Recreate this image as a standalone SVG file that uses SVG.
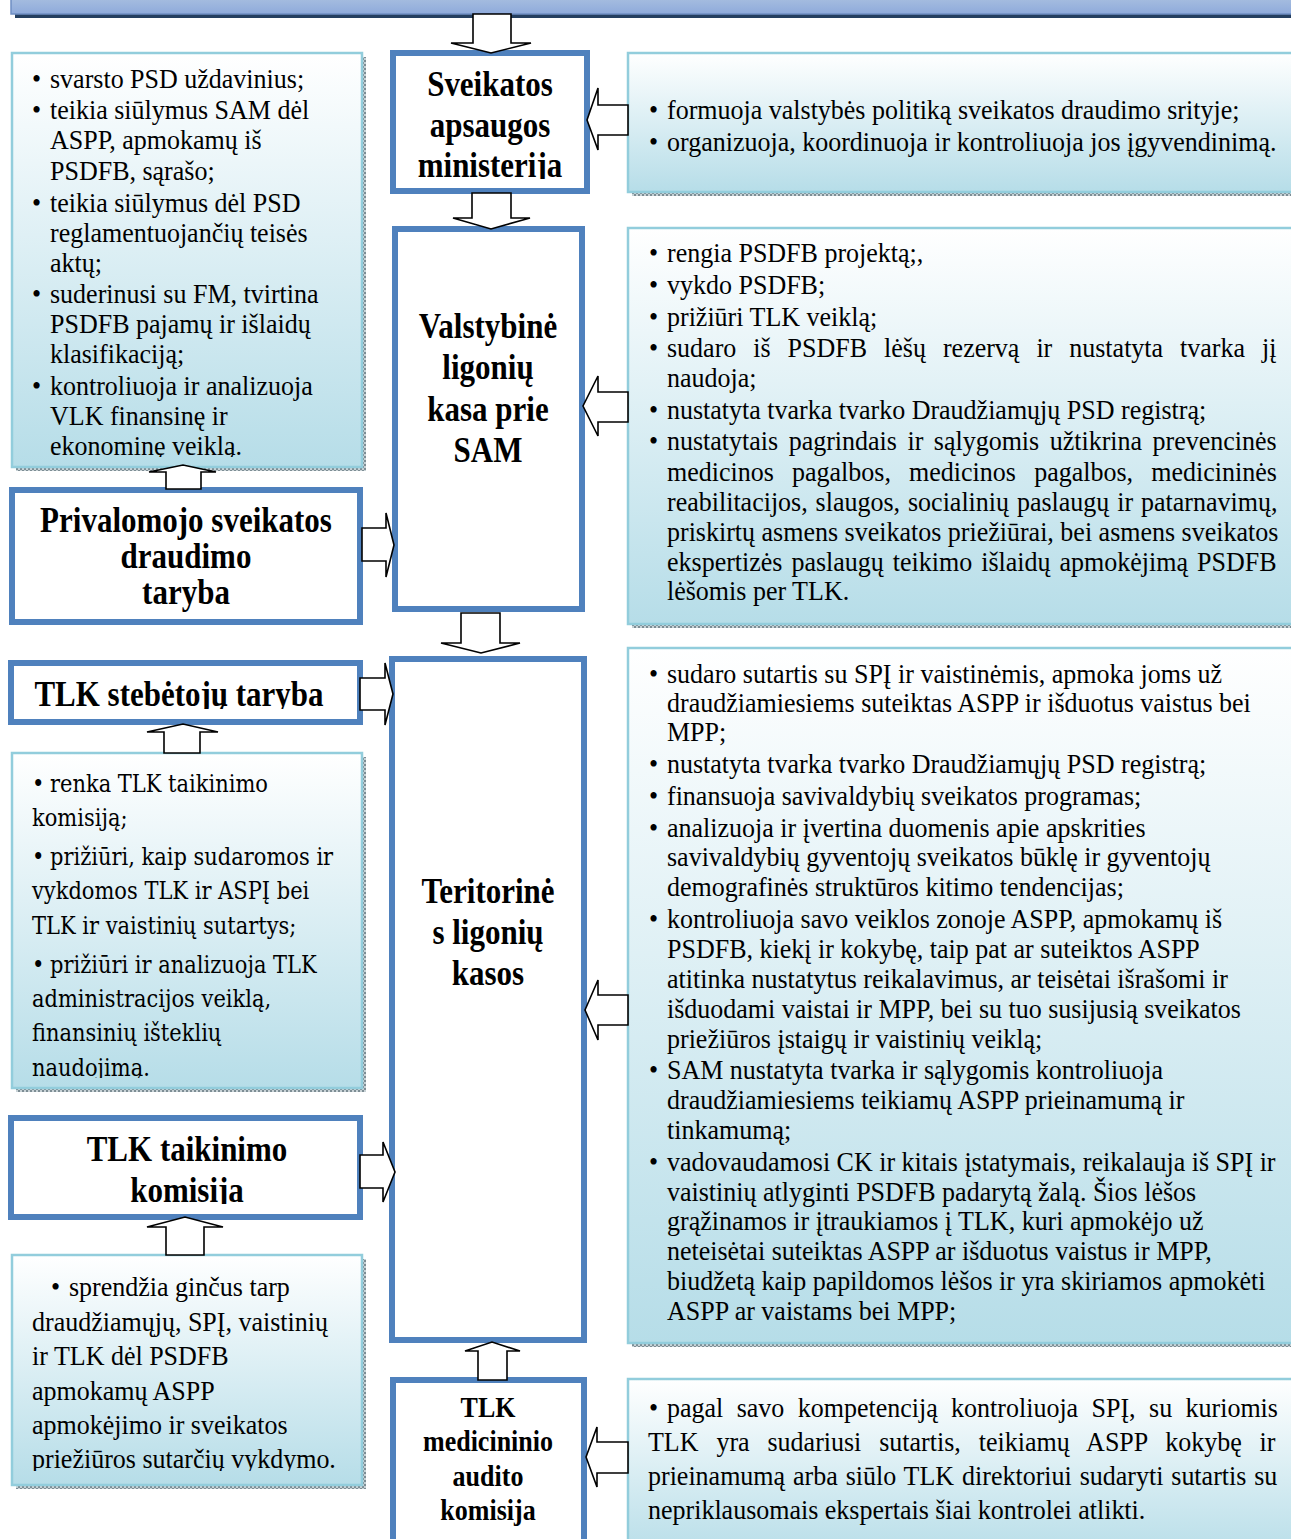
<svg xmlns="http://www.w3.org/2000/svg" width="1291" height="1539" viewBox="0 0 1291 1539">
<defs>
<linearGradient id="g" x1="0" y1="0" x2="0" y2="1">
<stop offset="0" stop-color="#ffffff"/>
<stop offset="1" stop-color="#b6dde8"/>
</linearGradient>
<linearGradient id="bar" x1="0" y1="0" x2="0" y2="1">
<stop offset="0" stop-color="#a9c0e0"/>
<stop offset="1" stop-color="#8eaadb"/>
</linearGradient>
<pattern id="sh" width="4" height="4" patternUnits="userSpaceOnUse">
<rect width="4" height="4" fill="#c8d2d6"/>
<rect width="2" height="2" fill="#7d8d94"/>
<rect x="2" y="2" width="2" height="2" fill="#7d8d94"/>
</pattern>
<clipPath id="cl1"><rect x="12" y="53" width="350" height="404"/></clipPath>
<clipPath id="cl2"><rect x="12" y="753" width="350" height="325"/></clipPath>
<clipPath id="cl3"><rect x="12" y="1255" width="350" height="216"/></clipPath>
<clipPath id="cSAM"><rect x="393" y="53" width="194" height="126"/></clipPath>
<clipPath id="cSteb"><rect x="11" y="663" width="349" height="46"/></clipPath>
<clipPath id="cTaik"><rect x="11" y="1118" width="349" height="86"/></clipPath>
</defs>
<style>
.info{fill:url(#g);stroke:#92cddc;stroke-width:2.5}
.sh{fill:url(#sh)}
.node{fill:#fff;stroke:#4f81bd;stroke-width:6}
.arrow{fill:#fff;stroke:#000;stroke-width:1.6;stroke-linejoin:miter}
text{transform-box:fill-box;transform-origin:0 80.5%;transform:scaleY(1.15)}
.b{font-family:"Liberation Serif","Times New Roman",serif;font-size:26px;fill:#000;transform:scaleY(1.06)}
.h{font-family:"Liberation Serif","Times New Roman",serif;font-weight:bold;font-size:31px;text-anchor:middle;fill:#000}
.h2{font-size:26px}
.c{font-family:"DejaVu Serif",serif;font-size:21px;fill:#000;transform-origin:0 79.7%}
</style>
<rect width="1291" height="1539" fill="#fff"/>

<g id="topbar">
<rect x="15" y="13" width="1290" height="5" fill="#243f60"/>
<rect x="11" y="-4" width="1290" height="18" fill="url(#bar)" stroke="#6f8fc4" stroke-width="1.5"/>
</g>

<g id="info-sam">
<rect class="sh" x="632" y="192" width="680" height="4"/>
<rect class="info" x="628" y="53" width="680" height="139"/>
<text class="b" x="649" y="119">•</text><text class="b" x="667" y="119">formuoja valstybės politiką sveikatos draudimo srityje;</text>
<text class="b" x="649" y="151">•</text><text class="b" x="667" y="151">organizuoja, koordinuoja ir kontroliuoja jos įgyvendinimą.</text>
</g>

<g id="info-left1">
<rect class="sh" x="362" y="57" width="4" height="414"/>
<rect class="sh" x="16" y="467" width="350" height="4"/>
<rect class="info" x="12" y="53" width="350" height="414"/>
<g clip-path="url(#cl1)">
<text class="b" x="32" y="88">•</text><text class="b" x="50" y="88">svarsto PSD uždavinius;</text>
<text class="b" x="32" y="119">•</text><text class="b" x="50" y="119">teikia siūlymus SAM dėl</text>
<text class="b" x="50" y="149">ASPP, apmokamų iš</text>
<text class="b" x="50" y="180">PSDFB, sąrašo;</text>
<text class="b" x="32" y="212">•</text><text class="b" x="50" y="212">teikia siūlymus dėl PSD</text>
<text class="b" x="50" y="242">reglamentuojančių teisės</text>
<text class="b" x="50" y="272">aktų;</text>
<text class="b" x="32" y="303">•</text><text class="b" x="50" y="303">suderinusi su FM, tvirtina</text>
<text class="b" x="50" y="333">PSDFB pajamų ir išlaidų</text>
<text class="b" x="50" y="363">klasifikaciją;</text>
<text class="b" x="32" y="395">•</text><text class="b" x="50" y="395">kontroliuoja ir analizuoja</text>
<text class="b" x="50" y="425">VLK finansinę ir</text>
<text class="b" x="50" y="455">ekonominę veiklą.</text>
</g>
</g>

<g id="sam">
<rect class="node" x="393" y="53" width="194" height="138"/>
<g clip-path="url(#cSAM)">
<text class="h" x="490" y="96">Sveikatos</text>
<text class="h" x="490" y="137">apsaugos</text>
<text class="h" x="490" y="177">ministerija</text>
</g>
</g>

<g id="vlk">
<rect class="node" x="395" y="229" width="187" height="380"/>
<text class="h" x="488" y="338">Valstybinė</text>
<text class="h" x="488" y="379">ligonių</text>
<text class="h" x="488" y="421">kasa prie</text>
<text class="h" x="488" y="462">SAM</text>
</g>

<g id="info-vlk">
<rect class="sh" x="632" y="624" width="680" height="4"/>
<rect class="info" x="628" y="228" width="680" height="396"/>
<text class="b" x="649" y="262">•</text><text class="b" x="667" y="262">rengia PSDFB projektą;,</text>
<text class="b" x="649" y="294">•</text><text class="b" x="667" y="294">vykdo PSDFB;</text>
<text class="b" x="649" y="326">•</text><text class="b" x="667" y="326">prižiūri TLK veiklą;</text>
<text class="b" x="649" y="357">•</text><text class="b" x="667" y="357" word-spacing="10.5">sudaro iš PSDFB lėšų rezervą ir nustatyta tvarka jį</text>
<text class="b" x="667" y="387">naudoja;</text>
<text class="b" x="649" y="419">•</text><text class="b" x="667" y="419">nustatyta tvarka tvarko Draudžiamųjų PSD registrą;</text>
<text class="b" x="649" y="450">•</text><text class="b" x="667" y="450" word-spacing="4">nustatytais pagrindais ir sąlygomis užtikrina prevencinės</text>
<text class="b" x="667" y="481" word-spacing="11.7">medicinos pagalbos, medicinos pagalbos, medicininės</text>
<text class="b" x="667" y="511" word-spacing="1.4">reabilitacijos, slaugos, socialinių paslaugų ir patarnavimų,</text>
<text class="b" x="667" y="541">priskirtų asmens sveikatos priežiūrai, bei asmens sveikatos</text>
<text class="b" x="667" y="571" word-spacing="2.5">ekspertizės paslaugų teikimo išlaidų apmokėjimą PSDFB</text>
<text class="b" x="667" y="600">lėšomis per TLK.</text>
</g>

<g id="psd-taryba">
<rect class="node" x="12" y="490" width="348" height="132"/>
<text class="h" x="186" y="532">Privalomojo sveikatos</text>
<text class="h" x="186" y="568">draudimo</text>
<text class="h" x="186" y="604">taryba</text>
</g>

<g id="tlk-steb">
<rect class="node" x="11" y="663" width="349" height="59"/>
<g clip-path="url(#cSteb)">
<text class="h" x="179" y="706">TLK stebėtojų taryba</text>
</g>
</g>

<g id="info-left2">
<rect class="sh" x="362" y="757" width="4" height="335"/>
<rect class="sh" x="16" y="1088" width="350" height="4"/>
<rect class="info" x="12" y="753" width="350" height="335"/>
<g clip-path="url(#cl2)">
<text class="c" x="32" y="792">•</text><text class="c" x="50" y="792">renka TLK taikinimo</text>
<text class="c" x="32" y="826">komisiją;</text>
<text class="c" x="32" y="865">•</text><text class="c" x="50" y="865">prižiūri, kaip sudaromos ir</text>
<text class="c" x="32" y="899">vykdomos TLK ir ASPĮ bei</text>
<text class="c" x="32" y="934">TLK ir vaistinių sutartys;</text>
<text class="c" x="32" y="973">•</text><text class="c" x="50" y="973">prižiūri ir analizuoja TLK</text>
<text class="c" x="32" y="1007">administracijos veiklą,</text>
<text class="c" x="32" y="1041">finansinių išteklių</text>
<text class="c" x="32" y="1076">naudojimą.</text>
</g>
</g>

<g id="tlk">
<rect class="node" x="392" y="659" width="192" height="681"/>
<text class="h" x="488" y="903">Teritorinė</text>
<text class="h" x="488" y="944">s ligonių</text>
<text class="h" x="488" y="985">kasos</text>
</g>

<g id="info-tlk">
<rect class="sh" x="632" y="1343" width="680" height="4"/>
<rect class="info" x="628" y="648" width="680" height="695"/>
<text class="b" x="649" y="683">•</text><text class="b" x="667" y="683">sudaro sutartis su SPĮ ir vaistinėmis, apmoka  joms už</text>
<text class="b" x="667" y="712">draudžiamiesiems suteiktas ASPP ir išduotus vaistus bei</text>
<text class="b" x="667" y="741">MPP;</text>
<text class="b" x="649" y="773">•</text><text class="b" x="667" y="773">nustatyta tvarka tvarko Draudžiamųjų PSD registrą;</text>
<text class="b" x="649" y="805">•</text><text class="b" x="667" y="805">finansuoja savivaldybių sveikatos programas;</text>
<text class="b" x="649" y="837">•</text><text class="b" x="667" y="837">analizuoja ir įvertina duomenis apie apskrities</text>
<text class="b" x="667" y="866">savivaldybių gyventojų sveikatos būklę ir gyventojų</text>
<text class="b" x="667" y="896">demografinės struktūros kitimo tendencijas;</text>
<text class="b" x="649" y="928">•</text><text class="b" x="667" y="928">kontroliuoja savo veiklos zonoje ASPP, apmokamų iš</text>
<text class="b" x="667" y="958">PSDFB, kiekį ir kokybę, taip pat ar suteiktos ASPP</text>
<text class="b" x="667" y="988">atitinka nustatytus reikalavimus, ar teisėtai išrašomi ir</text>
<text class="b" x="667" y="1018">išduodami vaistai ir MPP, bei su tuo susijusią sveikatos</text>
<text class="b" x="667" y="1048">priežiūros įstaigų ir vaistinių veiklą;</text>
<text class="b" x="649" y="1079">•</text><text class="b" x="667" y="1079">SAM nustatyta tvarka ir sąlygomis kontroliuoja</text>
<text class="b" x="667" y="1109">draudžiamiesiems teikiamų ASPP prieinamumą ir</text>
<text class="b" x="667" y="1139">tinkamumą;</text>
<text class="b" x="649" y="1171">•</text><text class="b" x="667" y="1171">vadovaudamosi CK ir kitais įstatymais, reikalauja iš SPĮ ir</text>
<text class="b" x="667" y="1201">vaistinių atlyginti PSDFB padarytą žalą. Šios lėšos</text>
<text class="b" x="667" y="1230">grąžinamos ir įtraukiamos į TLK, kuri apmokėjo už</text>
<text class="b" x="667" y="1260">neteisėtai suteiktas ASPP ar išduotus vaistus ir MPP,</text>
<text class="b" x="667" y="1290">biudžetą kaip papildomos lėšos ir yra skiriamos apmokėti</text>
<text class="b" x="667" y="1320">ASPP ar vaistams bei MPP;</text>
</g>

<g id="tlk-taik">
<rect class="node" x="11" y="1118" width="349" height="99"/>
<g clip-path="url(#cTaik)">
<text class="h" x="187" y="1161">TLK taikinimo</text>
<text class="h" x="187" y="1202">komisija</text>
</g>
</g>

<g id="info-left3">
<rect class="sh" x="362" y="1259" width="4" height="230"/>
<rect class="sh" x="16" y="1485" width="350" height="4"/>
<rect class="info" x="12" y="1255" width="350" height="230"/>
<g clip-path="url(#cl3)">
<text class="b" x="51" y="1296">•</text><text class="b" x="69" y="1296">sprendžia ginčus tarp</text>
<text class="b" x="32" y="1331">draudžiamųjų, SPĮ, vaistinių</text>
<text class="b" x="32" y="1365">ir TLK dėl PSDFB</text>
<text class="b" x="32" y="1400">apmokamų ASPP</text>
<text class="b" x="32" y="1434">apmokėjimo ir sveikatos</text>
<text class="b" x="32" y="1468">priežiūros sutarčių vykdymo.</text>
</g>
</g>

<g id="audit">
<rect class="node" x="393" y="1380" width="191" height="175"/>
<text class="h h2" x="488" y="1417">TLK</text>
<text class="h h2" x="488" y="1451">medicininio</text>
<text class="h h2" x="488" y="1486">audito</text>
<text class="h h2" x="488" y="1520">komisija</text>
</g>

<g id="info-audit">
<rect class="info" x="628" y="1379" width="680" height="180"/>
<text class="b" x="649" y="1417">•</text><text class="b" x="667" y="1417" word-spacing="6.9">pagal savo kompetenciją kontroliuoja SPĮ, su kuriomis</text>
<text class="b" x="648" y="1451" word-spacing="11.4">TLK yra sudariusi sutartis, teikiamų ASPP kokybę ir</text>
<text class="b" x="648" y="1485" word-spacing="1.4">prieinamumą arba siūlo TLK direktoriui sudaryti sutartis su</text>
<text class="b" x="648" y="1519">nepriklausomais ekspertais šiai kontrolei atlikti.</text>
</g>

<g id="connectors">
<polygon class="arrow" points="473,14 511,14 511,43 531,43 491,53 451,43 473,43"/>
<polygon class="arrow" points="472,193 511,193 511,218 530,218 491,229 453,218 472,218"/>
<polygon class="arrow" points="461,613 500,613 500,643 520,643 481,653 441,643 461,643"/>
<polygon class="arrow" points="478,1380 507,1380 507,1351 520,1351 492,1342 465,1351 478,1351"/>
<polygon class="arrow" points="628,105 598,105 598,88 587,120 598,150 598,135 628,135"/>
<polygon class="arrow" points="628,392 598,392 598,376 583,406 598,436 598,422 628,422"/>
<polygon class="arrow" points="628,995 598,995 598,980 585,1010 598,1040 598,1025 628,1025"/>
<polygon class="arrow" points="628,1442 597,1442 597,1427 586,1457 597,1487 597,1473 628,1473"/>
<polygon class="arrow" points="362,528 386,528 386,513 394,545 386,577 386,561 362,561"/>
<polygon class="arrow" points="360,678 385,678 385,663 393,694 385,725 385,710 360,710"/>
<polygon class="arrow" points="360,1155 383,1155 383,1142 395,1172 383,1202 383,1188 360,1188"/>
<polygon class="arrow" points="166,489 201,489 201,472 216,472 183,465 149,472 166,472"/>
<polygon class="arrow" points="164,753 200,753 200,732 218,732 183,724 147,732 164,732"/>
<polygon class="arrow" points="166,1255 204,1255 204,1227 223,1227 185,1217 147,1227 166,1227"/>
</g>
</svg>
